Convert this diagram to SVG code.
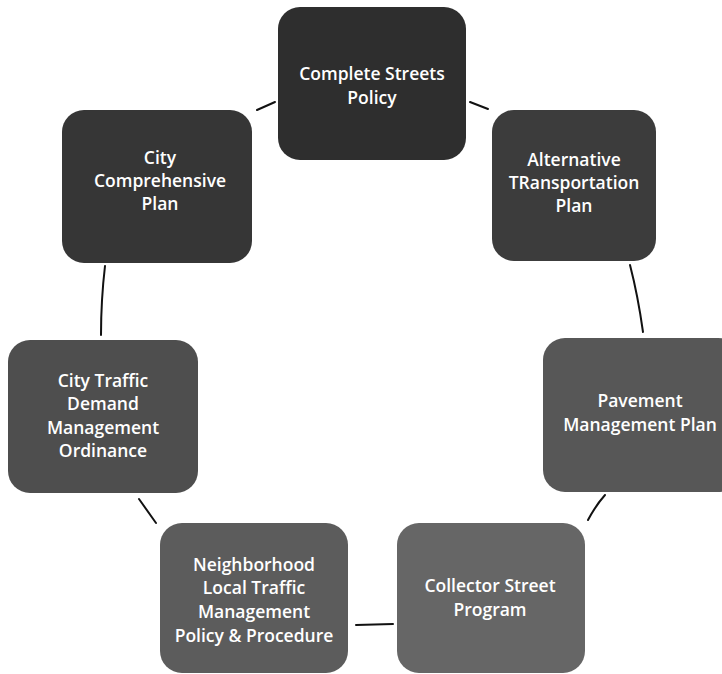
<svg xmlns="http://www.w3.org/2000/svg" width="722" height="674" viewBox="0 0 722 674">
<style>
.box{stroke:none}
.t{font-family:"Open Sans","Noto Sans","Liberation Sans",sans-serif;font-size:17.5px;fill:#ffffff;text-anchor:middle;font-weight:600}
.c{fill:none;stroke:#111;stroke-width:2;stroke-linecap:round}
</style>
<rect width="722" height="674" fill="#ffffff"/>
<g id="connectors">
<path class="c" d="M257,110 L275,102"/>
<path class="c" d="M470,102 L488,109"/>
<path class="c" d="M630,265 Q638,296 643,332"/>
<path class="c" d="M605,495 Q596,505 588,520"/>
<path class="c" d="M356,625 L393,624"/>
<path class="c" d="M139,499 L156,523"/>
<path class="c" d="M105,266 Q101,300 101,335"/>
</g>
<g id="n1">
<rect class="box" x="278" y="7" width="188" height="153" rx="22" fill="#2e2e2e"/>
<text class="t" x="372" y="80">Complete Streets</text>
<text class="t" x="372" y="104">Policy</text>
</g>
<g id="n2">
<rect class="box" x="492" y="110" width="164" height="151" rx="22" fill="#3c3c3c"/>
<text class="t" x="574" y="166">Alternative</text>
<text class="t" x="574" y="189">TRansportation</text>
<text class="t" x="574" y="212">Plan</text>
</g>
<g id="n3">
<rect class="box" x="543" y="338" width="197" height="154" rx="22" fill="#575757"/>
<text class="t" x="640" y="407">Pavement</text>
<text class="t" x="640" y="431">Management Plan</text>
</g>
<g id="n4">
<rect class="box" x="397" y="523" width="188" height="150" rx="22" fill="#666666"/>
<text class="t" x="490" y="592">Collector Street</text>
<text class="t" x="490" y="616">Program</text>
</g>
<g id="n5">
<rect class="box" x="160" y="523" width="188" height="150" rx="22" fill="#5c5c5c"/>
<text class="t" x="254" y="571">Neighborhood</text>
<text class="t" x="254" y="594">Local Traffic</text>
<text class="t" x="254" y="618">Management</text>
<text class="t" x="254" y="642">Policy &amp; Procedure</text>
</g>
<g id="n6">
<rect class="box" x="8" y="340" width="190" height="153" rx="22" fill="#4e4e4e"/>
<text class="t" x="103" y="387">City Traffic</text>
<text class="t" x="103" y="410">Demand</text>
<text class="t" x="103" y="434">Management</text>
<text class="t" x="103" y="457">Ordinance</text>
</g>
<g id="n7">
<rect class="box" x="62" y="110" width="190" height="153" rx="22" fill="#363636"/>
<text class="t" x="160" y="164">City</text>
<text class="t" x="160" y="187">Comprehensive</text>
<text class="t" x="160" y="210">Plan</text>
</g>
</svg>
